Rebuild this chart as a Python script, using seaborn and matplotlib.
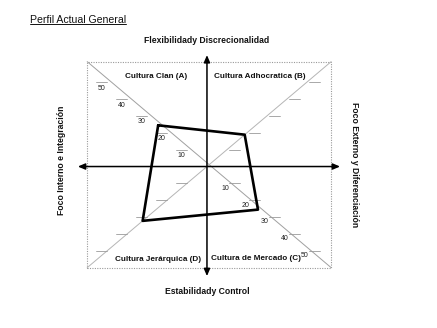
import matplotlib
matplotlib.use("Agg")
import matplotlib.pyplot as plt
import seaborn as sns
import pandas as pd
import numpy as np

# ---- data ----
title = "Perfil Actual General"
categories = ["Cultura Clan (A)", "Cultura Adhocratica (B)",
              "Cultura de Mercado (C)", "Cultura Jerárquica (D)"]
values = [22, 17, 23, 29]
tick_values = [10, 20, 30, 40, 50]
tick_labels = ["10", "20", "30", "40", "50"]
top_label = "Flexibilidady Discrecionalidad"
bottom_label = "Estabilidady Control"
left_label = "Foco Interno e Integración"
right_label = "Foco Externo y Diferenciación"

sns.set_theme(style="white")
plt.rcParams['font.family'] = ['Liberation Sans', 'DejaVu Sans']

fig = plt.figure(figsize=(4.37, 3.28), dpi=100)
ax = fig.add_axes([0, 0, 1, 1])
ax.set_xlim(-93.3, 103.7)
ax.set_ylim(-86.2, 88.9)
ax.axis('off')

# quadrant directions (A upper-left, B upper-right, C lower-right, D lower-left)
signs = [(-1, 1), (1, 1), (1, -1), (-1, -1)]

# dotted box
bx0, bx1, by0, by1 = -54, 56, -54, 56
ax.plot([bx0, bx1, bx1, bx0, bx0], [by0, by0, by1, by1, by0],
        ls=(0, (1, 1.2)), color="#9a9a9a", lw=0.8, zorder=1)
# diagonals
ax.plot([bx0, bx1], [by1, by0], color="#a0a0a0", lw=0.7, zorder=1)
ax.plot([bx0, bx1], [by0, by1], color="#b5b5b5", lw=0.7, zorder=1)

# tick dashes and labels along diagonals
for sx, sy in signs:
    for t, lab in zip(tick_values, tick_labels):
        tp = 0.9 * t
        if sx < 0:
            xs = [-(tp), -(tp + 4.8)]
        else:
            xs = [tp + 1, tp + 5.8]
        ax.plot(xs, [sy * tp, sy * tp], color="#9a9a9a", lw=0.6, zorder=2)
        if sx < 0 and sy > 0:
            ax.text(-(tp + 2.4), tp - 3.2, lab, fontsize=5, ha='center',
                    va='center', color="#222222", zorder=3)
        elif sx > 0 and sy < 0:
            ax.text(tp - 0.8, -(tp + 2.6), lab, fontsize=5, ha='center',
                    va='center', color="#222222", zorder=3)

# axes arrows
ax.annotate("", xy=(60, 0), xytext=(-58.2, 0),
            arrowprops=dict(arrowstyle="<|-|>,head_length=0.35,head_width=0.15",
                            color="black", lw=1.1, shrinkA=0, shrinkB=0), zorder=4)
ax.annotate("", xy=(0, 59.5), xytext=(0, -58.5),
            arrowprops=dict(arrowstyle="<|-|>,head_length=0.35,head_width=0.15",
                            color="black", lw=1.1, shrinkA=0, shrinkB=0), zorder=4)

# polygon
px = [s[0] * v for s, v in zip(signs, values)]
py = [s[1] * v for s, v in zip(signs, values)]
df = pd.DataFrame({"x": px + [px[0]], "y": py + [py[0]],
                   "order": list(range(len(px) + 1))})
sns.lineplot(data=df, x="x", y="y", sort=False, estimator=None,
             color="black", lw=1.9, ax=ax, zorder=5)
ax.set_xlim(-93.3, 103.7)
ax.set_ylim(-86.2, 88.9)
ax.axis('off')

# quadrant labels
qpos = [(-23, 47.8), (23.9, 47.8), (22, -49.2), (-22, -49.4)]
for (qx, qy), cat in zip(qpos, categories):
    ax.text(qx, qy, cat, fontsize=5.9, fontweight='bold', ha='center',
            va='center', color="#111111", zorder=6)

# axis labels
ax.text(0, 67.5, top_label, fontsize=6.2, fontweight='bold', ha='center',
        va='center', color="#111111")
ax.text(0, -66.5, bottom_label, fontsize=6.2, fontweight='bold', ha='center',
        va='center', color="#111111")
ax.text(-65.4, 3.5, left_label, fontsize=6.2, fontweight='bold', ha='center',
        va='center', rotation=90, color="#111111")
ax.text(66.7, 0.8, right_label, fontsize=6.2, fontweight='bold', ha='center',
        va='center', rotation=-90, color="#111111")

# title with underline
tt = ax.text(-79.8, 78.2, title, fontsize=7.6, ha='left', va='center',
             color="#111111")
fig.canvas.draw()
bb = tt.get_window_extent(renderer=fig.canvas.get_renderer())
inv = ax.transData.inverted()
(x0, y0), (x1, y1) = inv.transform([(bb.x0, bb.y0), (bb.x1, bb.y1)])
ax.plot([x0, x1], [y0 + 0.3, y0 + 0.3], color="#111111", lw=0.7)

fig.savefig("out.png", dpi=100)
